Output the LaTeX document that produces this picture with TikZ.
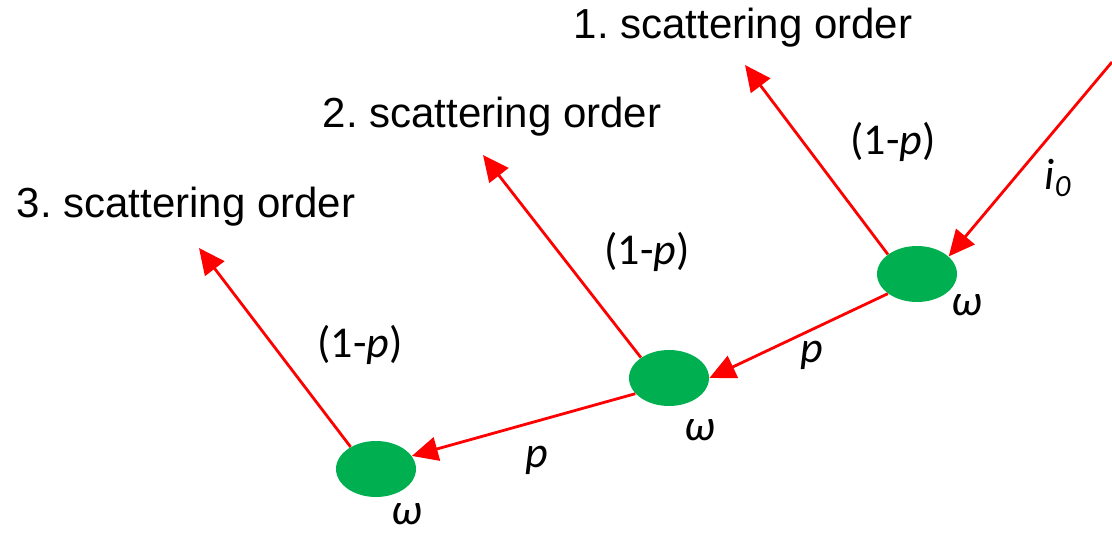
\documentclass[tikz,border=0pt]{standalone}
\usepackage{fontspec}
\setmainfont{Liberation Sans}
\newfontfamily\calfont{Carlito}
\usetikzlibrary{arrows.meta, shapes.geometric, positioning}
\definecolor{raycol}{RGB}{255, 0, 0}
\definecolor{scatcol}{RGB}{0, 176, 80}
\frenchspacing

\begin{document}
\begin{tikzpicture}[
            x=0.5pt, y=-0.5pt,
            scat/.style={ellipse, fill=scatcol, minimum width=40pt, minimum height=28pt, inner sep=0pt},
            arr/.style={-{Triangle[length=13pt, width=12pt]}, line width=1.4pt, color=raycol},
            order/.style={font=\fontsize{21}{25}\selectfont},
            lbl/.style={font=\calfont\fontsize{22}{26}\selectfont\itshape},
          ]
          \useasboundingbox (0,0) rectangle (1112,535);
          % scattering events
          \node[scat] (s1) at (917,274) {};
          \node[scat] (s2) at (669,378) {};
          \node[scat] (s3) at (376,469) {};
          % texts
          \node[order] (o1) at (743,28) {1. scattering order};
          \node[order] (o2) at (492,117) {2. scattering order};
          \node[order] (o3) at (186,207) {3. scattering order};
          \node[lbl] (q1) at (893,142) {\upshape(1-\textit{p})};
          \node[lbl] (q2) at (647,252) {\upshape(1-\textit{p})};
          \node[lbl] (q3) at (360,345) {\upshape(1-\textit{p})};
          \node[lbl] (w1) at (967,305) {ω};
          \node[lbl] (w2) at (700,430) {ω};
          \node[lbl] (w3) at (407,514) {ω};
          \node[lbl] (p1) at (812,355) {p};
          \node[lbl] (p2) at (537,460) {p};
          \node[lbl] (i0) at (1058,178) {i\textsubscript{0}};
          % ray ends
          \coordinate (src) at (1112,62);
          \coordinate (t1) at (745,65);
          \coordinate (t2) at (483,155);
          \coordinate (t3) at (199,248);
          \draw[arr] (src) -- (s1.29);
          \draw[arr] (s1.146) -- (t1);
          \draw[arr] (s2.144) -- (t2);
          \draw[arr] (s3.139) -- (t3);
          \draw[arr] (s1.214) -- (s2.east);
          \draw[arr] (s2.205) -- (s3.20);
        \end{tikzpicture}
\end{document}
